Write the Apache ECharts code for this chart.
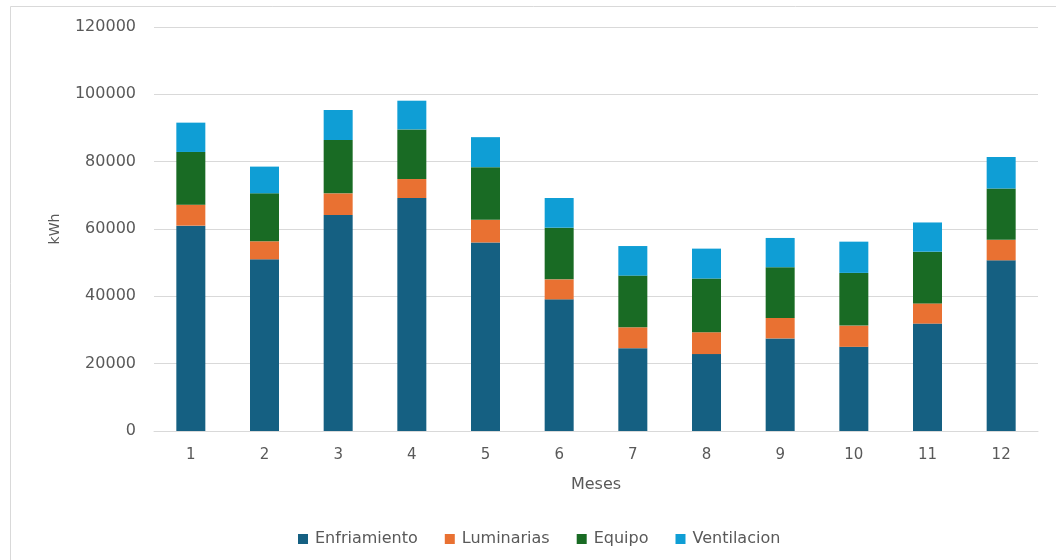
<!DOCTYPE html>
<html>
<head>
<meta charset="utf-8">
<script src="https://cdn.jsdelivr.net/npm/echarts@6/dist/echarts.min.js"></script>
<style>html,body{margin:0;padding:0;background:#fff;}#c{width:1056px;height:560px;}</style>
</head>
<body>
<div id="c"></div>
<script>
const months = ['1','2','3','4','5','6','7','8','9','10','11','12'];
const enfriamiento = [61000, 51000, 64150, 69200, 56000, 39100, 24600, 22850, 27500, 25000, 31900, 50700];
const luminarias  = [6240, 5350, 6440, 5640, 6730, 5940, 6200, 6480, 6100, 6300, 6000, 6080];
const equipo      = [15640, 14260, 15840, 14750, 15640, 15350, 15360, 15960, 15060, 15660, 15360, 15260];
const ventilacion = [8710, 7920, 8910, 8520, 8910, 8810, 8780, 8880, 8680, 9280, 8680, 9380];

const FONT = 'DejaVu Sans';
const chart = echarts.init(document.getElementById('c'));
const mk = (name, data, color) => ({
  name, type: 'bar', stack: 'total', data, barWidth: 29,
  itemStyle: { color }, emphasis: { disabled: true }
});
chart.setOption({
  animation: false,
  textStyle: { fontFamily: FONT },
  graphic: [{
    type: 'rect', shape: { x: 10.5, y: 6.5, width: 1060, height: 600 },
    style: { fill: 'none', stroke: '#d9d9d9', lineWidth: 1 }, silent: true
  }],
  grid: { left: 154, right: 18, top: 27, bottom: 129 },
  legend: {
    left: 293, top: 526, itemWidth: 10, itemHeight: 10, itemGap: 27,
    icon: 'rect',
    textStyle: { fontFamily: FONT, fontSize: 16, color: '#595959', padding: [0, 0, 0, 2] },
    data: ['Enfriamiento', 'Luminarias', 'Equipo', 'Ventilacion']
  },
  xAxis: {
    type: 'category', data: months,
    name: 'Meses', nameLocation: 'middle', nameGap: 46,
    nameTextStyle: { fontFamily: FONT, fontSize: 16, color: '#595959' },
    axisLine: { lineStyle: { color: '#d9d9d9', width: 1 } },
    axisTick: { show: false },
    axisLabel: { fontFamily: FONT, fontSize: 15, color: '#595959', margin: 17 }
  },
  yAxis: {
    type: 'value', min: 0, max: 120000, interval: 20000,
    name: 'kWh', nameLocation: 'middle', nameGap: 92, nameRotate: 90,
    nameTextStyle: { fontFamily: FONT, fontSize: 14, color: '#595959' },
    axisLine: { show: false }, axisTick: { show: false },
    splitLine: { lineStyle: { color: '#d9d9d9', width: 1 } },
    axisLabel: { fontFamily: FONT, fontSize: 16, color: '#595959', margin: 18, formatter: v => String(v) }
  },
  series: [
    mk('Enfriamiento', enfriamiento, '#156082'),
    mk('Luminarias', luminarias, '#E97132'),
    mk('Equipo', equipo, '#196B24'),
    mk('Ventilacion', ventilacion, '#0F9ED5')
  ]
});
</script>
</body>
</html>
